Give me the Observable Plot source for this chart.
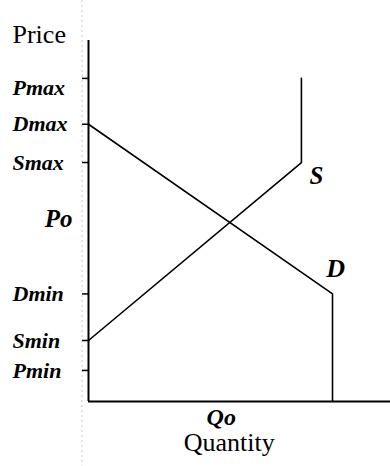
<!DOCTYPE html>
<html>
<head>
<meta charset="utf-8">
<script src="https://cdn.jsdelivr.net/npm/d3@7"></script>
<script src="https://cdn.jsdelivr.net/npm/@observablehq/plot@0.6"></script>
<style>
  html, body { margin: 0; padding: 0; background: #fff; }
  svg { display: block; }
</style>
</head>
<body>
<div id="chart"></div>
<script>
// Price levels (abstract units, 0–100)
const priceLabels = ["Pmax", "Dmax", "Smax", "Dmin", "Smin", "Pmin"];
const priceValues = [89.5, 76.8, 66.2, 29.8, 16.9, 8.6];
const poValue = 49.6;          // equilibrium price Po
const qoValue = 46.6;          // equilibrium quantity Qo

// Supply curve: Smin -> Smax, then vertical to Pmax
const supplyQ = [0, 70.5, 70.5];
const supplyP = [16.9, 66.2, 89.5];
// Demand curve: Dmax -> Dmin, then vertical to 0
const demandQ = [0, 80.8, 80.8];
const demandP = [76.8, 29.8, 0];

const supply = supplyQ.map((q, i) => ({q, p: supplyP[i]}));
const demand = demandQ.map((q, i) => ({q, p: demandP[i]}));
const ticks = priceLabels.map((label, i) => ({label, p: priceValues[i]}));

const serif = "'Liberation Serif', 'DejaVu Serif', serif";
const lab = {fontStyle: "italic", fontWeight: "bold", fill: "#000"};

const chart = Plot.plot({
  width: 390,
  height: 466,
  marginLeft: 88,
  marginRight: 0,
  marginTop: 40,
  marginBottom: 65,
  x: {domain: [0, 100], axis: null},
  y: {domain: [0, 100], axis: null},
  style: {fontFamily: serif, background: "#fff", overflow: "visible"},
  marks: [
    // axes
    Plot.ruleX([0], {stroke: "#000", strokeWidth: 2}),
    Plot.ruleY([0], {stroke: "#000", strokeWidth: 2}),
    // small tick stubs on the price axis (left of the axis)
    Plot.ruleY(ticks, {y: "p", x1: () => 0, x2: () => 0, dx: -3, insetLeft: -3, insetRight: -3,
      stroke: "#000", strokeWidth: 1.5}),
    // curves
    Plot.line(demand, {x: "q", y: "p", stroke: "#000", strokeWidth: 1.6}),
    Plot.line(supply, {x: "q", y: "p", stroke: "#000", strokeWidth: 1.6}),
    // price labels
    Plot.text(ticks.filter(d => d.label !== "Pmax"), {y: "p", text: "label", frameAnchor: "left", dx: -76,
      textAnchor: "start", fontSize: 22, ...lab}),
    Plot.text(ticks.filter(d => d.label === "Pmax"), {y: "p", text: "label", frameAnchor: "left", dx: -76, dy: 10,
      textAnchor: "start", fontSize: 22, ...lab}),
    Plot.text([{p: poValue}], {y: "p", text: () => "Po", frameAnchor: "left", dx: -16, dy: -3,
      textAnchor: "end", fontSize: 25, ...lab}),
    // curve labels
    Plot.text([supply[1]], {x: "q", y: "p", text: () => "S", dx: 15, dy: 13, fontSize: 25, ...lab}),
    Plot.text([demand[1]], {x: "q", y: "p", text: () => "D", dx: 3, dy: -25, fontSize: 26, ...lab}),
    // quantity labels
    Plot.text([{q: qoValue}], {x: "q", text: () => "Qo", frameAnchor: "bottom", dx: -8, dy: 23,
      fontSize: 24, ...lab}),
    Plot.text([{q: qoValue}], {x: "q", text: () => "Quantity", frameAnchor: "bottom", dy: 49,
      fontSize: 26, fill: "#000"}),
    // axis title
    Plot.text(["Price"], {text: d => d, frameAnchor: "top-left", dx: -76, dy: -16,
      textAnchor: "start", fontSize: 26, fill: "#000"})
  ]
});

// faint scan guide line seen in the reference, left of the axis
d3.select(chart).insert("line", ":first-child")
  .attr("x1", 82).attr("x2", 82).attr("y1", 0).attr("y2", 466)
  .attr("stroke", "#c8c8c8").attr("stroke-width", 1).attr("stroke-dasharray", "2,3");

document.getElementById("chart").appendChild(chart);
</script>
</body>
</html>
